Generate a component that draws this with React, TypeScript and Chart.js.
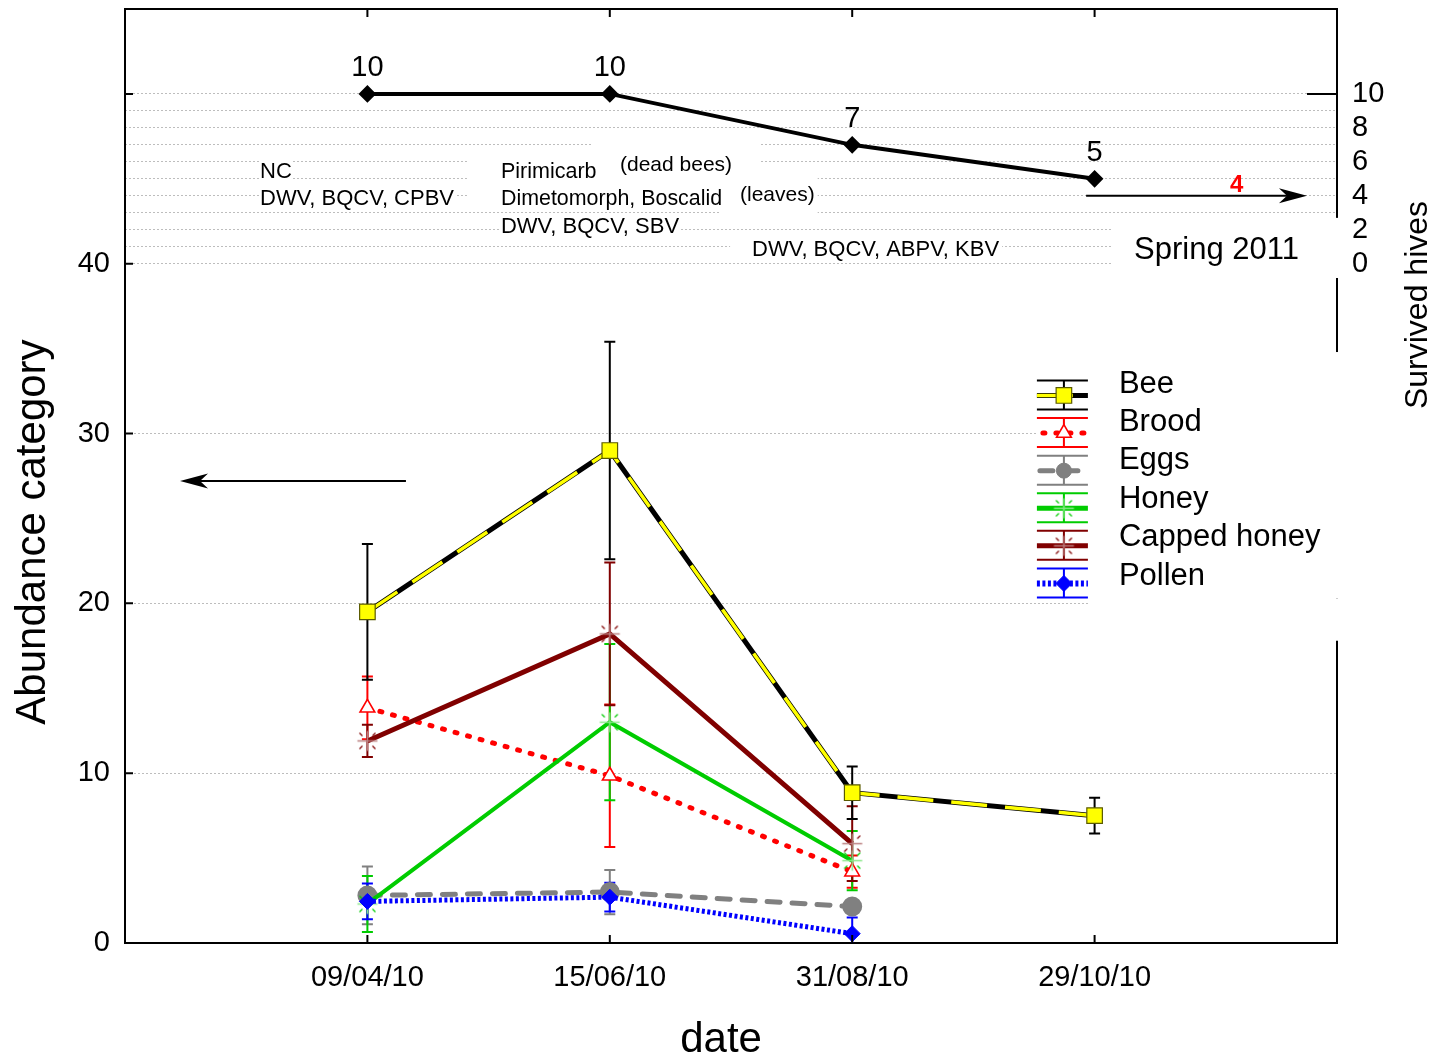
import React, { useEffect, useRef } from "react";
import { Chart, registerables } from "chart.js";

Chart.register(...registerables);

const FONT = "'Liberation Sans', Arial, Helvetica, sans-serif";

// ---------- data ----------
const dates = ["09/04/10", "15/06/10", "31/08/10", "29/10/10"];
const beeValues = [19.5, 29.0, 8.85, 7.5];
const beeErrors = [4.0, 6.4, 1.55, 1.05];
const broodValues = [13.85, 9.85, 4.2, null];
const broodErrors = [1.85, 4.2, 0.95, null];
const eggsValues = [2.8, 3.0, 2.15, null];
const eggsErrors = [1.7, 1.3, 0.35, null];
const honeyValues = [2.3, 13.0, 4.85, null];
const honeyErrors = [1.65, 4.6, 1.75, null];
const cappedValues = [11.9, 18.2, 5.85, null];
const cappedErrors = [0.95, 4.2, 2.2, null];
const pollenValues = [2.45, 2.7, 0.55, null];
const pollenErrors = [1.05, 0.85, 0.95, null];
const hiveValues = [10, 10, 7, 5];
const hiveSpring = 4;
const leftTickValues = [0, 10, 20, 30, 40];
const leftTickMarks = [0, 10, 20, 30, 40, 50];
const rightTickValues = [0, 1, 2, 3, 4, 5, 6, 7, 8, 9, 10];
const legendLabels = ["Bee", "Brood", "Eggs", "Honey", "Capped honey", "Pollen"];

// ---------- text annotations (data coordinates) ----------
const annotations = [
  { text: "NC", x: -0.443, y: 45.4, size: 22, pad: [1, 1, 1, 1] },
  { text: "DWV, BQCV, CPBV", x: -0.443, y: 43.82, size: 22, pad: [1, 1, 1, 1] },
  { text: "Pirimicarb", x: 0.551, y: 45.4, size: 21.5, pad: [34, 6, 3, 1] },
  { text: "(dead bees)", x: 1.042, y: 45.82, size: 21, pad: [27, 27, 14.5, 10.5] },
  { text: "Dimetomorph, Boscalid", x: 0.551, y: 43.82, size: 21.4, pad: [34, 11, 0.5, 0.5] },
  { text: "(leaves)", x: 1.537, y: 44.05, size: 21, pad: [20, 3, 9.5, 11.5] },
  { text: "DWV, BQCV, SBV", x: 0.551, y: 42.17, size: 22, pad: [1, 1, 1, 1] },
  { text: "DWV, BQCV, ABPV, KBV", x: 1.587, y: 40.81, size: 22, pad: [22, 3, 0.5, 0.5] },
  { text: "Spring 2011", x: 3.163, y: 40.81, size: 31, pad: null },
  { text: String(hiveSpring), x: 3.559, y: 44.64, size: 24, pad: null, bold: true, color: "#ff0000" },
];

const whiteBoxes = [
  { x1: 2.762, y1: 34.8, y2: 20.3 },
  { x1: 2.981, y1: 20.3, y2: 17.8 },
  { x1: 3.072, y1: 42.7, y2: 39.16 },
];

const arrowDefs = [
  { x1: 2.965, x2: 3.876, y: hiveSpring, axis: "y2" },
  { x1: 0.159, x2: -0.773, y: 27.2, axis: "y" },
];

function makeStarMarker(lineColor: string, tickColor: string) {
  const c = document.createElement("canvas");
  c.width = 25;
  c.height = 25;
  const g = c.getContext("2d")!;
  const m = 12.5;
  g.strokeStyle = lineColor;
  g.lineWidth = 1.5;
  g.beginPath();
  g.moveTo(m - 10, m);
  g.lineTo(m + 10, m);
  g.moveTo(m, m - 10);
  g.lineTo(m, m + 10);
  g.stroke();
  g.strokeStyle = tickColor;
  g.lineWidth = 1.2;
  g.beginPath();
  for (const sx of [-1, 1])
    for (const sy of [-1, 1]) {
      g.moveTo(m + sx * 5, m + sy * 5);
      g.lineTo(m + sx * 8, m + sy * 8);
    }
  g.stroke();
  return c;
}

function pts(vals: (number | null)[]) {
  const out: any[] = [];
  vals.forEach((v, i) => {
    if (v != null) out.push({ x: i, y: v });
  });
  return out;
}

function drawMarker(ctx: any, kind: string, x: number, y: number, st: any) {
  ctx.save();
  ctx.fillStyle = st.fill;
  ctx.strokeStyle = st.stroke;
  ctx.lineWidth = st.bw || 1;
  ctx.beginPath();
  if (kind === "rect") {
    const s = Math.SQRT1_2 * st.r;
    ctx.rect(x - s, y - s, 2 * s, 2 * s);
    ctx.fill();
    ctx.stroke();
  } else if (kind === "triangle") {
    let a = 0;
    ctx.moveTo(x + Math.sin(a) * st.r, y - Math.cos(a) * st.r);
    a += (2 * Math.PI) / 3;
    ctx.lineTo(x + Math.sin(a) * st.r, y - Math.cos(a) * st.r);
    a += (2 * Math.PI) / 3;
    ctx.lineTo(x + Math.sin(a) * st.r, y - Math.cos(a) * st.r);
    ctx.closePath();
    ctx.fill();
    ctx.stroke();
  } else if (kind === "circle") {
    ctx.arc(x, y, st.r, 0, Math.PI * 2);
    ctx.fill();
    ctx.stroke();
  } else if (kind === "rectRot") {
    ctx.moveTo(x, y - st.r);
    ctx.lineTo(x + st.r, y);
    ctx.lineTo(x, y + st.r);
    ctx.lineTo(x - st.r, y);
    ctx.closePath();
    ctx.fill();
    ctx.stroke();
  } else if (kind === "image") {
    ctx.drawImage(st.img, x - st.img.width / 2, y - st.img.height / 2);
  }
  ctx.restore();
}

export default function App() {
  const ref = useRef<HTMLCanvasElement>(null);

  useEffect(() => {
    const canvas = ref.current!;
    const honeyMarker = makeStarMarker("#8be88b", "#00cc00");
    const cappedMarker = makeStarMarker("#bb8080", "#800000");

    const errorSeries = [
      { values: eggsValues, errors: eggsErrors, color: "#808080" },
      { values: broodValues, errors: broodErrors, color: "#ff0000" },
      { values: honeyValues, errors: honeyErrors, color: "#00cc00" },
      { values: cappedValues, errors: cappedErrors, color: "#800000" },
      { values: pollenValues, errors: pollenErrors, color: "#0000ff" },
      { values: beeValues, errors: beeErrors, color: "#000000" },
    ];

    const legendStyles: any[] = [
      { color: "#000000", line: "bee", marker: "rect", m: { fill: "#ffff00", stroke: "#5a5a00", r: 11, bw: 1.2 } },
      { color: "#ff0000", line: { w: 5, dash: [2, 11], cap: "round", off: -3 }, marker: "triangle", m: { fill: "#ffffff", stroke: "#ff0000", r: 8.5, bw: 1.6 } },
      { color: "#808080", line: { w: 5, dash: [13, 12], cap: "round" }, marker: "circle", m: { fill: "#808080", stroke: "#808080", r: 7.5 } },
      { color: "#00cc00", line: { w: 5, dash: [], cap: "butt" }, marker: "image", m: { img: honeyMarker } },
      { color: "#800000", line: { w: 5, dash: [], cap: "butt" }, marker: "image", m: { img: cappedMarker } },
      { color: "#0000ff", line: { w: 6, dash: [3, 2.5], cap: "butt" }, marker: "rectRot", m: { fill: "#0000ff", stroke: "#0000ff", r: 8 } },
    ];

    const decor = {
      id: "decor",
      beforeDatasetsDraw(chart: any) {
        const { ctx, chartArea: ca, scales } = chart;
        const px = (v: number) => scales.x.getPixelForValue(v);
        const py = (v: number) => scales.y.getPixelForValue(v);
        ctx.save();
        ctx.fillStyle = "#ffffff";
        for (const b of whiteBoxes) {
          const x1 = px(b.x1);
          const x2 = ca.right + 9;
          const yt = py(b.y1);
          const yb = py(b.y2);
          ctx.fillRect(x1, yt, x2 - x1, yb - yt);
        }
        // white backgrounds first, then all texts
        for (const a of annotations) {
          if (!a.pad) continue;
          ctx.font = `${a.bold ? "bold " : ""}${a.size}px ${FONT}`;
          const w = ctx.measureText(a.text).width;
          const X = px(a.x);
          const Y = py(a.y);
          const [l, r, t, b] = a.pad;
          ctx.fillStyle = "#ffffff";
          ctx.fillRect(X - l, Y - a.size / 2 - t, w + l + r, a.size + t + b);
        }
        for (const a of annotations) {
          ctx.font = `${a.bold ? "bold " : ""}${a.size}px ${FONT}`;
          ctx.fillStyle = a.color || "#000000";
          ctx.textAlign = "left";
          ctx.textBaseline = "middle";
          ctx.fillText(a.text, px(a.x), py(a.y));
        }
        // error bars
        ctx.beginPath();
        ctx.rect(ca.left, ca.top, ca.right - ca.left, ca.bottom - ca.top);
        ctx.clip();
        ctx.lineWidth = 2;
        for (const s of errorSeries) {
          ctx.strokeStyle = s.color;
          s.values.forEach((v: any, i: number) => {
            const e = s.errors[i];
            if (v == null || e == null) return;
            const x = px(i);
            const yt = py(v + e);
            const yb = py(v - e);
            ctx.beginPath();
            ctx.moveTo(x, yt);
            ctx.lineTo(x, yb);
            ctx.moveTo(x - 5.5, yt);
            ctx.lineTo(x + 5.5, yt);
            ctx.moveTo(x - 5.5, yb);
            ctx.lineTo(x + 5.5, yb);
            ctx.stroke();
          });
        }
        ctx.restore();
      },
      afterDatasetsDraw(chart: any) {
        const { ctx, chartArea: ca, scales } = chart;
        const px = (v: number) => scales.x.getPixelForValue(v);
        const py = (v: number) => scales.y.getPixelForValue(v);
        const py2 = (v: number) => scales.y2.getPixelForValue(v);
        ctx.save();

        // top frame and inward ticks
        ctx.strokeStyle = "#000";
        ctx.lineWidth = 2;
        ctx.beginPath();
        ctx.moveTo(ca.left - 1, ca.top);
        ctx.lineTo(ca.right + 1, ca.top);
        for (const v of leftTickMarks) {
          const y = py(v);
          ctx.moveTo(ca.left, y);
          ctx.lineTo(ca.left + 8, y);
        }
        for (let i = 0; i < dates.length; i++) {
          const x = px(i);
          ctx.moveTo(x, ca.bottom);
          ctx.lineTo(x, ca.bottom - 8);
          ctx.moveTo(x, ca.top);
          ctx.lineTo(x, ca.top + 8);
        }
        const y10 = py2(10);
        ctx.moveTo(ca.right - 30, y10);
        ctx.lineTo(ca.right, y10);
        ctx.stroke();

        // hive labels
        ctx.fillStyle = "#000";
        ctx.font = `29px ${FONT}`;
        ctx.textAlign = "center";
        ctx.textBaseline = "middle";
        hiveValues.forEach((v, i) => {
          ctx.fillText(String(v), px(i), py2(v) - 26);
        });

        // arrows
        ctx.fillStyle = "#000";
        ctx.strokeStyle = "#000";
        for (const a of arrowDefs) {
          const y = a.axis === "y2" ? py2(a.y) : py(a.y);
          const x1 = px(a.x1);
          const x2 = px(a.x2);
          const d = Math.sign(x2 - x1);
          const hl = 28, hw = 7.5, notch = 8;
          ctx.lineWidth = 2;
          ctx.beginPath();
          ctx.moveTo(x1, y);
          ctx.lineTo(x2 - d * (hl - notch), y);
          ctx.stroke();
          ctx.beginPath();
          ctx.moveTo(x2, y);
          ctx.lineTo(x2 - d * hl, y - hw);
          ctx.lineTo(x2 - d * (hl - notch), y);
          ctx.lineTo(x2 - d * hl, y + hw);
          ctx.closePath();
          ctx.fill();
        }

        // legend
        const lx = px(2.762);
        const ty0 = py(32.92);
        const sy0 = ty0 + 11.5;
        legendLabels.forEach((label, i) => {
          const st = legendStyles[i];
          const ty = ty0 + i * 38.4;
          const sy = sy0 + i * 37.6;
          const mx = lx + 27;
          ctx.save();
          ctx.strokeStyle = st.color;
          ctx.lineWidth = 2;
          ctx.beginPath();
          ctx.moveTo(lx, sy - 15);
          ctx.lineTo(lx + 51, sy - 15);
          ctx.moveTo(lx, sy + 14);
          ctx.lineTo(lx + 51, sy + 14);
          ctx.moveTo(mx, sy - 15);
          ctx.lineTo(mx, sy + 14);
          ctx.stroke();
          if (st.line === "bee") {
            ctx.lineWidth = 5;
            ctx.strokeStyle = "#000";
            ctx.beginPath();
            ctx.moveTo(lx, sy);
            ctx.lineTo(lx + 51, sy);
            ctx.stroke();
            ctx.lineWidth = 3.5;
            ctx.strokeStyle = "#ffff00";
            ctx.setLineDash([36, 18]);
            ctx.beginPath();
            ctx.moveTo(lx, sy);
            ctx.lineTo(lx + 51, sy);
            ctx.stroke();
          } else {
            ctx.lineWidth = st.line.w;
            ctx.lineCap = st.line.cap;
            ctx.setLineDash(st.line.dash);
            ctx.lineDashOffset = st.line.off || 0;
            ctx.beginPath();
            ctx.moveTo(lx + (st.line.cap === "round" ? 3 : 0), sy);
            ctx.lineTo(lx + 51, sy);
            ctx.stroke();
          }
          ctx.restore();
          drawMarker(ctx, st.marker, mx, sy, st.m);
          ctx.fillStyle = "#000";
          ctx.font = `31px ${FONT}`;
          ctx.textAlign = "left";
          ctx.textBaseline = "middle";
          ctx.fillText(label, lx + 82, ty);
        });

        // axis titles
        ctx.fillStyle = "#000";
        ctx.textAlign = "center";
        ctx.textBaseline = "middle";
        ctx.font = `42px ${FONT}`;
        ctx.save();
        ctx.translate(ca.left - 92, py(24.2));
        ctx.rotate(-Math.PI / 2);
        ctx.fillText("Abundance category", 0, 0);
        ctx.restore();
        ctx.fillText("date", px(1.459), ca.bottom + 97);
        ctx.font = `32px ${FONT}`;
        ctx.save();
        ctx.translate(ca.right + 81, py2(-2.43));
        ctx.rotate(-Math.PI / 2);
        ctx.fillText("Survived hives", 0, 0);
        ctx.restore();

        ctx.restore();
      },
    };

    const zeroPad = (s: any) => {
      s.paddingTop = 0;
      s.paddingBottom = 0;
      s.paddingLeft = 0;
      s.paddingRight = 0;
    };

    const chart = new Chart(canvas, {
      type: "line",
      data: {
        datasets: [
          {
            label: "Bee",
            data: pts(beeValues),
            borderColor: "#ffff00",
            borderWidth: 3.5,
            borderDash: [36, 18],
            pointStyle: "rect",
            pointRadius: 11,
            pointBackgroundColor: "#ffff00",
            pointBorderColor: "#5a5a00",
            pointBorderWidth: 1.2,
            yAxisID: "y",
          },
          {
            label: "Bee (line)",
            data: pts(beeValues),
            borderColor: "#000000",
            borderWidth: 5,
            pointRadius: 0,
            yAxisID: "y",
          },
          {
            label: "Pollen",
            data: pts(pollenValues),
            borderColor: "#0000ff",
            borderWidth: 5,
            borderDash: [3, 2.5],
            pointStyle: "rectRot",
            pointRadius: 8,
            pointBackgroundColor: "#0000ff",
            pointBorderColor: "#0000ff",
            pointBorderWidth: 1,
            yAxisID: "y",
          },
          {
            label: "Capped honey",
            data: pts(cappedValues),
            borderColor: "#800000",
            borderWidth: 5,
            pointStyle: cappedMarker as any,
            pointRadius: 10,
            yAxisID: "y",
          },
          {
            label: "Honey",
            data: pts(honeyValues),
            borderColor: "#00cc00",
            borderWidth: 4,
            pointStyle: honeyMarker as any,
            pointRadius: 10,
            yAxisID: "y",
          },
          {
            label: "Brood",
            data: pts(broodValues),
            borderColor: "#ff0000",
            borderWidth: 5,
            borderDash: [2, 11],
            borderCapStyle: "round",
            pointStyle: "triangle",
            pointRadius: 8.5,
            pointBackgroundColor: "#ffffff",
            pointBorderColor: "#ff0000",
            pointBorderWidth: 1.6,
            yAxisID: "y",
          },
          {
            label: "Eggs",
            data: pts(eggsValues),
            borderColor: "#808080",
            borderWidth: 5,
            borderDash: [13, 12],
            borderCapStyle: "round",
            pointStyle: "circle",
            pointRadius: 7.5,
            pointBackgroundColor: "#808080",
            pointBorderColor: "#808080",
            yAxisID: "y",
          },
          {
            label: "Survived hives",
            data: pts(hiveValues),
            borderColor: "#000000",
            borderWidth: 4,
            pointStyle: "rectRot",
            pointRadius: 6,
            pointBackgroundColor: "#000000",
            pointBorderColor: "#000000",
            yAxisID: "y2",
          },
        ] as any,
      },
      options: {
        animation: false,
        responsive: false,
        devicePixelRatio: 1,
        layout: { autoPadding: false, padding: { top: 9, left: 0, right: 0, bottom: 0 } },
        elements: { line: { tension: 0 } },
        plugins: { legend: { display: false }, tooltip: { enabled: false } },
        scales: {
          x: {
            type: "linear",
            position: "bottom",
            min: -1,
            max: 4,
            afterBuildTicks: (s: any) => {
              s.ticks = dates.map((_, i) => ({ value: i }));
            },
            afterFit: (s: any) => {
              s.height = 118;
              zeroPad(s);
            },
            ticks: {
              autoSkip: false,
              maxRotation: 0,
              padding: 18,
              color: "#000",
              font: { family: FONT, size: 29 },
              callback: (v: any) => dates[v] ?? "",
            },
            grid: { display: false, drawTicks: false },
            border: { display: true, color: "#000", width: 2 },
          },
          y: {
            type: "linear",
            position: "left",
            min: 0,
            max: 55,
            afterBuildTicks: (s: any) => {
              s.ticks = leftTickValues.map((v) => ({ value: v }));
            },
            afterFit: (s: any) => {
              s.width = 125;
              zeroPad(s);
            },
            ticks: {
              autoSkip: false,
              padding: 15,
              color: "#000",
              font: { family: FONT, size: 29 },
            },
            grid: {
              drawTicks: false,
              lineWidth: 1,
              color: (c: any) =>
                c.tick && [10, 20, 30].includes(c.tick.value) ? "#bdbdbd" : "rgba(0,0,0,0)",
            },
            border: { display: true, color: "#000", width: 2, dash: [2, 2] },
          },
          y2: {
            type: "linear",
            position: "right",
            min: -40,
            max: 15,
            afterBuildTicks: (s: any) => {
              s.ticks = rightTickValues.map((v) => ({ value: v }));
            },
            afterFit: (s: any) => {
              s.width = 102;
              zeroPad(s);
            },
            ticks: {
              autoSkip: false,
              padding: 15,
              color: "#000",
              font: { family: FONT, size: 29 },
              callback: (v: any) => (v % 2 === 0 ? String(v) : ""),
            },
            grid: { drawTicks: false, lineWidth: 1, color: "#bdbdbd" },
            border: { display: true, color: "#000", width: 2, dash: [2, 2] },
          },
        },
      } as any,
      plugins: [decor],
    });

    return () => chart.destroy();
  }, []);

  return (
    <div style={{ position: "fixed", left: 0, top: 0, width: 1439, height: 1061, background: "#ffffff" }}>
      <canvas ref={ref} width={1439} height={1061} style={{ display: "block", width: 1439, height: 1061 }} />
    </div>
  );
}
